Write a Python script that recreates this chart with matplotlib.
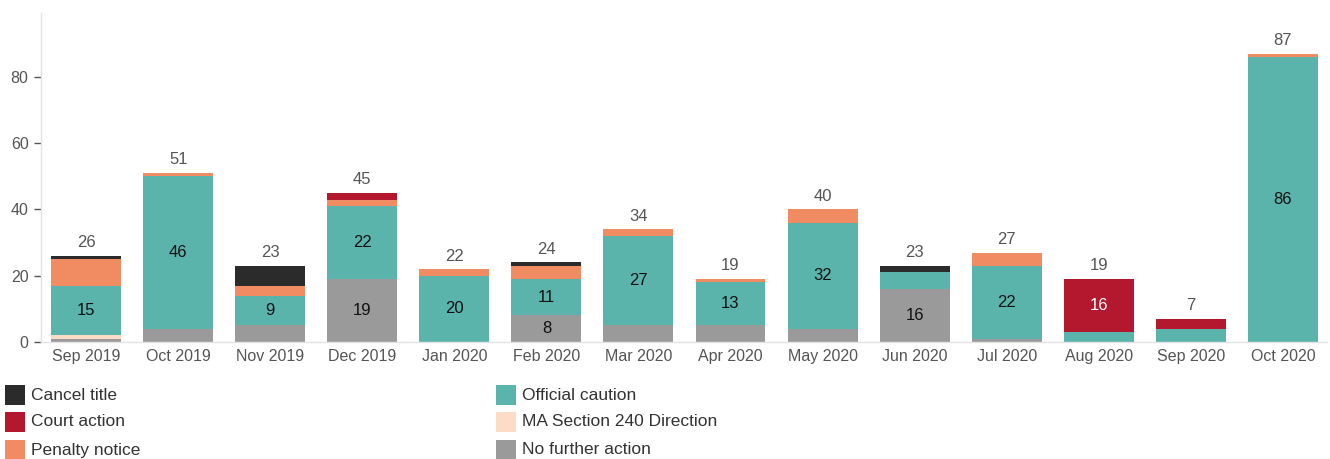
import matplotlib
matplotlib.use("Agg")
import matplotlib.pyplot as plt
from matplotlib.patches import Rectangle
import numpy as np

plt.rcParams['font.family'] = ['Liberation Sans', 'DejaVu Sans']

months = ["Sep 2019", "Oct 2019", "Nov 2019", "Dec 2019", "Jan 2020", "Feb 2020",
          "Mar 2020", "Apr 2020", "May 2020", "Jun 2020", "Jul 2020", "Aug 2020",
          "Sep 2020", "Oct 2020"]
no_further_action = [1, 4, 5, 19, 0, 8, 5, 5, 4, 16, 1, 0, 0, 0]
ma_section_240 = [1, 0, 0, 0, 0, 0, 0, 0, 0, 0, 0, 0, 0, 0]
official_caution = [15, 46, 9, 22, 20, 11, 27, 13, 32, 5, 22, 3, 4, 86]
penalty_notice = [8, 1, 3, 2, 2, 4, 2, 1, 4, 0, 4, 0, 0, 1]
court_action = [0, 0, 0, 2, 0, 0, 0, 0, 0, 0, 0, 16, 3, 0]
cancel_title = [1, 0, 6, 0, 0, 1, 0, 0, 0, 2, 0, 0, 0, 0]

series = [
    ("No further action", no_further_action, "#9a9a9a", True),
    ("MA Section 240 Direction", ma_section_240, "#fcdcc6", True),
    ("Official caution", official_caution, "#5ab4ab", True),
    ("Penalty notice", penalty_notice, "#f08b62", False),
    ("Court action", court_action, "#b4182e", True),
    ("Cancel title", cancel_title, "#2b2b2b", True),
]
colors = {name: c for name, _, c, _ in series}

W, H = 1330, 459
fig = plt.figure(figsize=(W / 100, H / 100), dpi=100)
ax = fig.add_axes([41 / W, 1 - 342 / H, (1327 - 41) / W, (342 - 12.7) / H])

x = np.arange(len(months))
bottom = np.zeros(len(months))
for name, vals, col, lab in series:
    v = np.array(vals, dtype=float)
    bars = ax.bar(x, v, 0.76, bottom=bottom, color=col, linewidth=0)
    if lab:
        for xi, b, val in zip(x, bottom, v):
            if val >= 8:
                ax.text(xi, b + val / 2, f"{int(val)}", ha="center", va="center",
                        fontsize=12, color="white" if name == "Court action" else "#111111")
    bottom += v

for xi, t in zip(x, bottom):
    ax.annotate(f"{int(t)}", (xi, t), xytext=(0, 4), textcoords="offset points",
                ha="center", va="bottom", fontsize=12, color="#555555")

ax.set_xlim(-0.49, 13.48)
ax.set_ylim(0, 99.4)
ax.set_yticks([0, 20, 40, 60, 80])
ax.set_xticks(x)
ax.set_xticklabels(months)
ax.tick_params(axis="y", length=5, width=1, color="#555555", labelcolor="#555555",
               labelsize=11.5, pad=4)
ax.tick_params(axis="x", length=0, labelcolor="#555555", labelsize=11.5, pad=5)
for s in ["top", "right"]:
    ax.spines[s].set_visible(False)
for s in ["left", "bottom"]:
    ax.spines[s].set_color("#e3e3e3")
    ax.spines[s].set_linewidth(1)

# Legend
legend_items = [
    ("Cancel title", 5, 395), ("Court action", 5, 422), ("Penalty notice", 5, 450),
    ("Official caution", 496, 395), ("MA Section 240 Direction", 496, 422),
    ("No further action", 496, 450),
]
for name, lx, ly in legend_items:
    fig.add_artist(Rectangle((lx / W, 1 - (ly + 10) / H), 20 / W, 20 / H,
                             transform=fig.transFigure, color=colors[name], lw=0))
    fig.text((lx + 26) / W, 1 - ly / H, name, ha="left", va="center",
             fontsize=12.5, color="#333333")

fig.savefig("out.png", dpi=100)
